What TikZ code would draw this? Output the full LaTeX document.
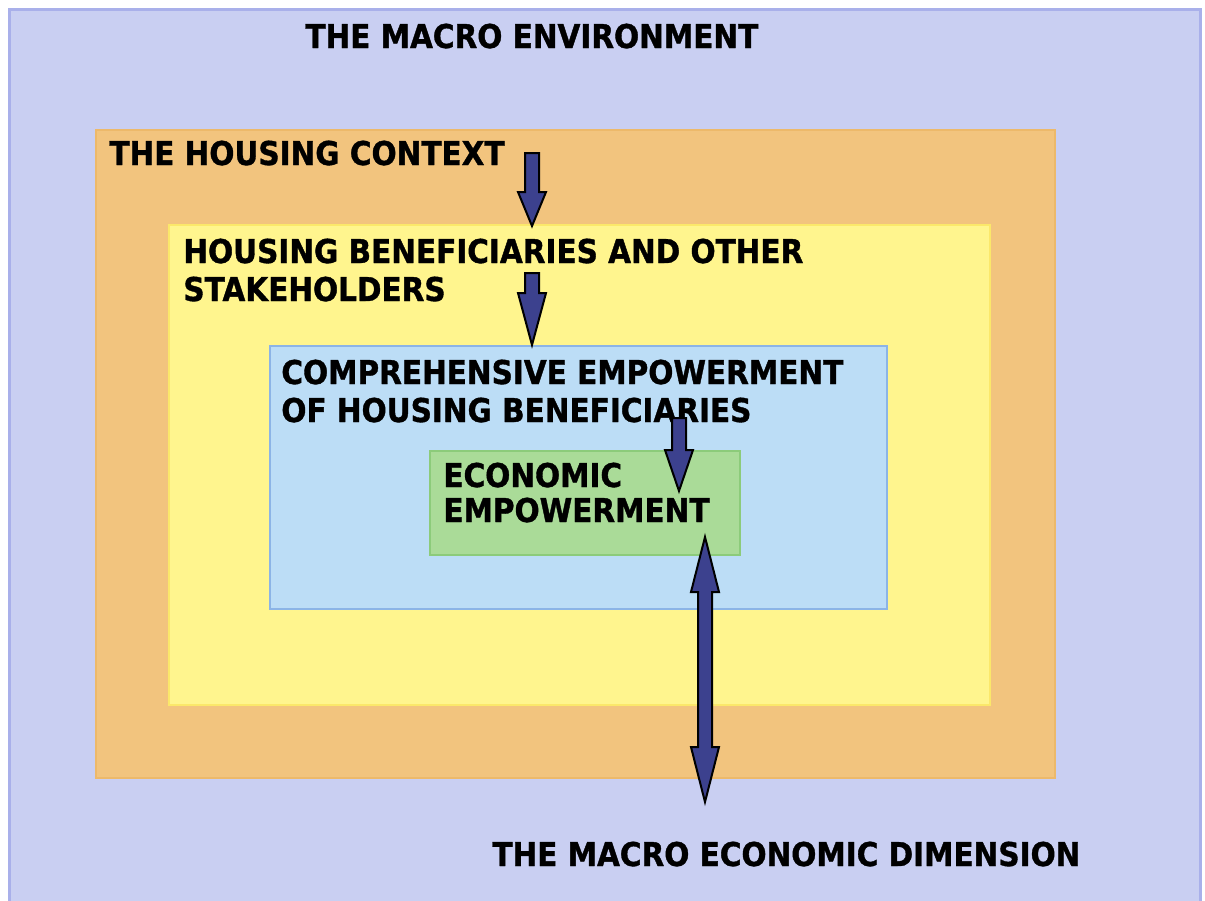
\documentclass[tikz,border=0pt]{standalone}
\usepackage{fontspec}
\setmainfont{DejaVu Sans}[BoldFont={DejaVu Sans Bold}, BoldFeatures={FakeStretch=0.9, FakeBold=1.1}]
\usetikzlibrary{calc}
\definecolor{envblue}{HTML}{C9CFF2}
\definecolor{envedge}{HTML}{A9B0EA}
\definecolor{ctxorange}{HTML}{F2C47E}
\definecolor{ctxedge}{HTML}{EDB96A}
\definecolor{benyellow}{HTML}{FFF58E}
\definecolor{benedge}{HTML}{FBE86A}
\definecolor{compblue}{HTML}{BCDDF6}
\definecolor{compedge}{HTML}{8CB4E6}
\definecolor{ecogreen}{HTML}{AADB98}
\definecolor{ecoedge}{HTML}{8CCB7A}
\definecolor{arrowblue}{HTML}{3C418E}
\tikzset{
  lbl/.style={anchor=base west, inner sep=0pt, font=\bfseries\fontsize{16.4pt}{19pt}\selectfont, text=black},
  blockarrow/.style={fill=arrowblue, draw=black, line width=1pt, line join=miter},
  layer/.style={line width=1pt}
}
\newcommand{\downblock}[3]{%
  \filldraw[blockarrow] ($(#1)+(-7,0)$) -- ($(#2)+(-7,-#3)$) -- ($(#2)+(-14,-#3)$) -- (#2)
    -- ($(#2)+(14,-#3)$) -- ($(#2)+(7,-#3)$) -- ($(#1)+(7,0)$) -- cycle;}
\begin{document}
\begin{tikzpicture}[x=0.5pt,y=-0.5pt]
\useasboundingbox (0,0) rectangle (1205,900);
\fill[white] (0,0) rectangle (1205,900);
% layers
\draw[layer, fill=envblue, draw=envedge, line width=1.5pt] (9,9) rectangle (1200,905);
\draw[layer, fill=ctxorange, draw=ctxedge] (96,130) rectangle (1055,778);
\draw[layer, fill=benyellow, draw=benedge] (169,225) rectangle (990,705);
\draw[layer, fill=compblue, draw=compedge] (270,346) rectangle (887,609);
\draw[layer, fill=ecogreen, draw=ecoedge] (430,451) rectangle (740,555);
% labels
\node[lbl] (macro) at (305,48) {THE MACRO ENVIRONMENT};
\node[lbl] (ctx) at (109,165) {THE HOUSING CONTEXT};
\node[lbl] (ben1) at (183,263) {HOUSING BENEFICIARIES AND OTHER};
\node[lbl] (ben2) at (183,301) {STAKEHOLDERS};
\node[lbl] (comp1) at (281,384) {COMPREHENSIVE EMPOWERMENT};
\node[lbl] (comp2) at (281,422) {OF HOUSING BENEFICIARIES};
\node[lbl] (eco1) at (443,487) {ECONOMIC};
\node[lbl] (eco2) at (443,522) {EMPOWERMENT};
\node[lbl] (dim) at (492,866) {THE MACRO ECONOMIC DIMENSION};
% arrows
\coordinate (a1s) at (532,153); \coordinate (a1e) at (532,226);
\coordinate (a2s) at (532,273); \coordinate (a2e) at (532,345);
\coordinate (a3s) at (679,418); \coordinate (a3e) at (679,491);
\coordinate (dtop) at (705,537); \coordinate (dbot) at (705,802);
\downblock{a1s}{a1e}{34}
\downblock{a2s}{a2e}{52}
\downblock{a3s}{a3e}{41}
\filldraw[blockarrow] (dtop) -- ($(dtop)+(14,55)$) -- ($(dtop)+(7,55)$) -- ($(dbot)+(7,-55)$)
  -- ($(dbot)+(14,-55)$) -- (dbot) -- ($(dbot)+(-14,-55)$) -- ($(dbot)+(-7,-55)$)
  -- ($(dtop)+(-7,55)$) -- ($(dtop)+(-14,55)$) -- cycle;
\end{tikzpicture}
\end{document}
